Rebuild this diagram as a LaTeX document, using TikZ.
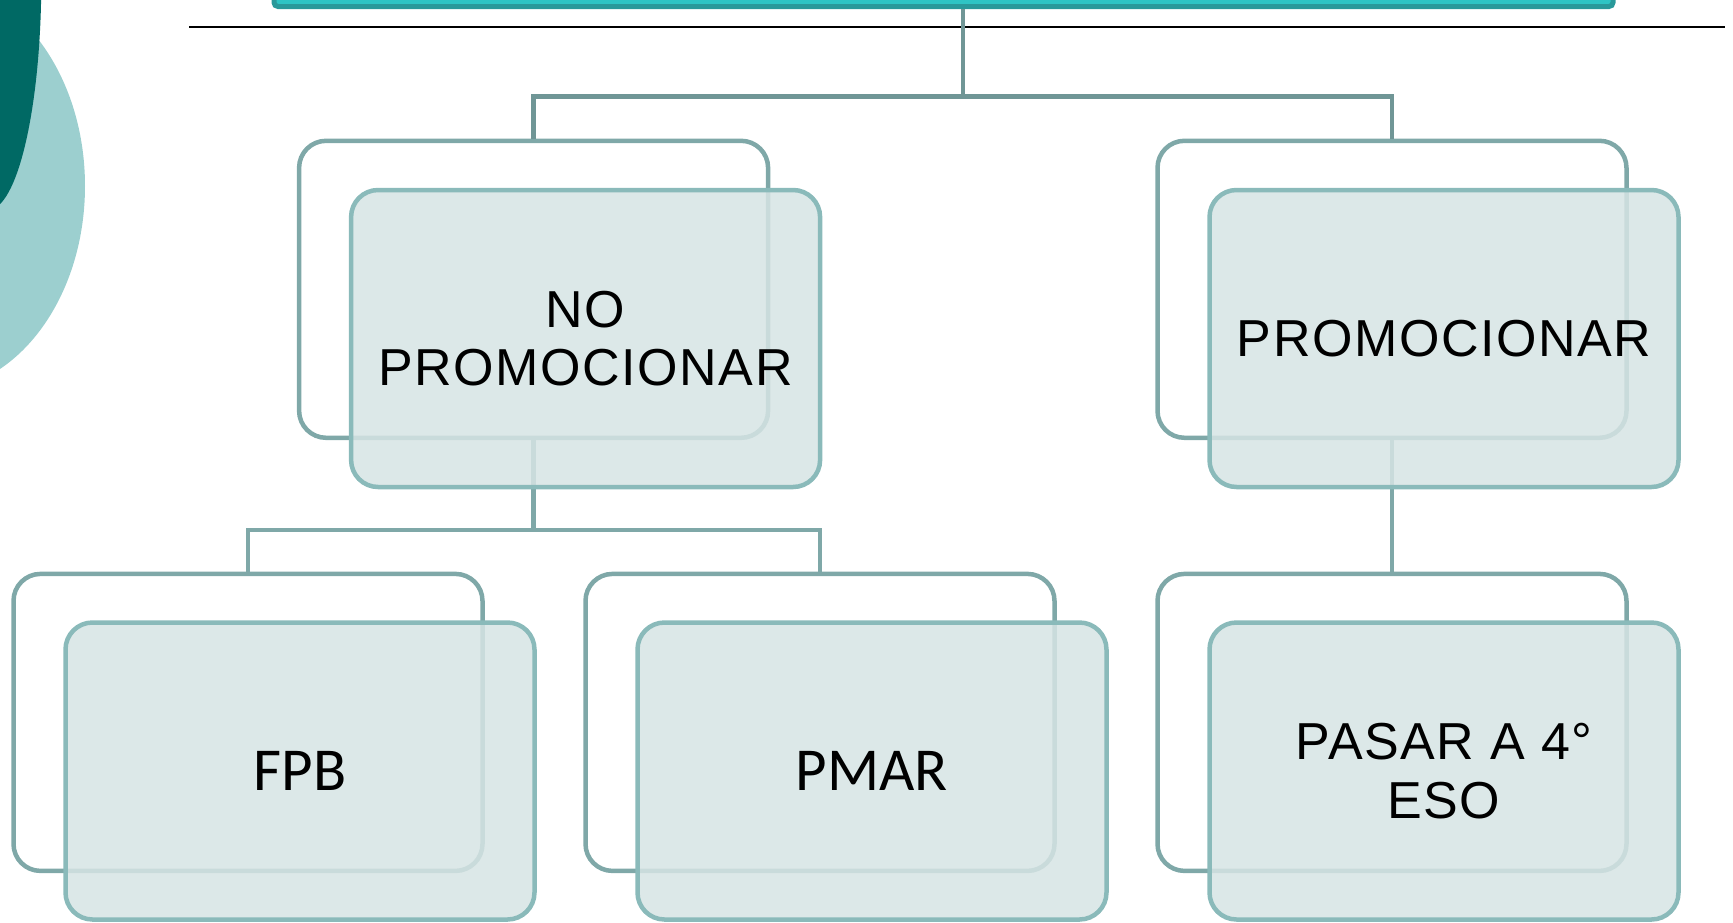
\documentclass[tikz,border=0pt]{standalone}
\usepackage{fontspec}
\setmainfont[LetterSpace=3]{Liberation Sans}
\newfontfamily\calfont{Carlito}
\definecolor{darkdeco}{HTML}{006964}
\definecolor{lightdeco}{HTML}{9CCFCF}
\definecolor{barfill}{HTML}{2EC4C4}
\definecolor{barline}{HTML}{29999A}
\definecolor{conntop}{HTML}{709696}
\definecolor{backc}{HTML}{7FA8A8}
\definecolor{frontc}{HTML}{8ABABA}
\definecolor{frontfill}{HTML}{D6E4E4}
\newcommand\mainlbl{\fontsize{52}{58.6}\selectfont}
\newcommand\sublbl{\calfont\fontsize{61}{66}\selectfont}
\begin{document}
\begin{tikzpicture}[x=1pt,y=-1pt,
  backbox/.style={draw=backc, line width=4.5pt, rounded corners=27pt,
    minimum width=469pt, minimum height=297pt, inner sep=0pt},
  frontbox/.style={draw=frontc, line width=4.5pt, rounded corners=27pt,
    minimum width=469pt, minimum height=297pt, inner sep=0pt,
    fill=frontfill, fill opacity=0.85, text opacity=1, align=center, font=\mainlbl},
  conn/.style={draw=backc, line width=4.5pt},
  conntopstyle/.style={draw=conntop, line width=4.5pt},
  bar/.style={draw=barline, fill=barfill, line width=5pt, rounded corners=4pt,
    minimum width=1339pt, minimum height=53pt, inner sep=0pt}
]
\useasboundingbox (0,0) rectangle (1733,922);
\clip (0,0) rectangle (1733,922);

% decorative shapes at the left
\fill[lightdeco] (-70,186) ellipse [x radius=155pt, y radius=205pt];
\fill[darkdeco] (-12,-20) ellipse [x radius=53.3pt, y radius=230pt];

% title bar and rule
\node[bar] (bar) at (943.5,-20) {};
\draw[line width=2.6pt, black] (189,27) -- (1725,27);

% back boxes
\node[backbox] (b1) at (533.6,289.3) {};
\node[backbox] (b2) at (1392,289.3) {};
\node[backbox] (b3) at (248,722.4) {};
\node[backbox] (b4) at (820,722.4) {};
\node[backbox] (b5) at (1392,722.4) {};

% connectors
\coordinate (tap) at (963,9);
\coordinate (hub) at (963,96.3);
\coordinate (hubL) at (533.6,530);
\draw[conntopstyle] (tap) -- (hub);
\draw[conntopstyle] (b1.north) |- (hub) -| (b2.north);
\draw[conn] (b1.south) -- (hubL);
\draw[conn] (b3.north) |- (hubL) -| (b4.north);
\draw[conn] (b2.south) -- (b5.north);

% front boxes
\node[frontbox] (f1) at (585.6,338.5) {NO\\PROMOCIONAR};
\node[frontbox] (f2) at (1444,338.5) {PROMOCIONAR};
\node[frontbox, font=\sublbl] (f3) at (300,771) {FPB};
\node[frontbox, font=\sublbl] (f4) at (872,771) {PMAR};
\node[frontbox] (f5) at (1444,771) {PASAR A 4°\\ESO};
\end{tikzpicture}
\end{document}
